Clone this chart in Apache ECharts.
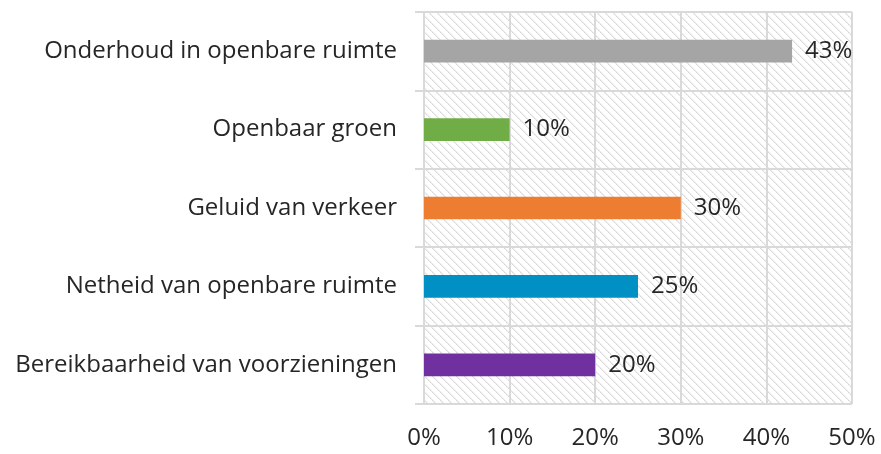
<!DOCTYPE html>
<html>
<head>
<meta charset="utf-8">
<script src="https://cdn.jsdelivr.net/npm/echarts@6/dist/echarts.min.js"></script>
<style>
  html, body { margin: 0; padding: 0; background: #ffffff; }
  #chart { width: 881px; height: 454px; }
</style>
</head>
<body>
<div id="chart"></div>
<script>
// Categories listed bottom to top (category axis on y runs upward)
const categories = [
  'Bereikbaarheid van voorzieningen',
  'Netheid van openbare ruimte',
  'Geluid van verkeer',
  'Openbaar groen',
  'Onderhoud in openbare ruimte'
];
const values = [20, 25, 30, 10, 43];
const barColors = ['#7030a0', '#0090c3', '#ed7d31', '#70ad47', '#a5a5a5'];
const xTicks = [0, 10, 20, 30, 40, 50];

// Light diagonal hatch used as the plot background
function makeHatch() {
  const size = 8;
  const c = document.createElement('canvas');
  c.width = size; c.height = size;
  const ctx = c.getContext('2d');
  ctx.fillStyle = '#ffffff';
  ctx.fillRect(0, 0, size, size);
  for (let i = 0; i < size; i++) {
    ctx.fillStyle = i % 2 === 0 ? '#d6d6d6' : '#e4e4e4';
    ctx.fillRect(i, i, 1, 1);
    ctx.fillStyle = '#ececec';
    ctx.fillRect((i + 1) % size, i, 1, 1);
  }
  return c;
}

const font = '"Open Sans", Lato, sans-serif';
const textColor = '#262626';
const lineColor = '#d9d9d9';

const chart = echarts.init(document.getElementById('chart'), null, { renderer: 'canvas' });
chart.setOption({
  animation: false,
  grid: {
    left: 424, right: 29, top: 12, bottom: 50,
    show: true,
    borderWidth: 0,
    backgroundColor: { image: makeHatch(), repeat: 'repeat' }
  },
  xAxis: {
    type: 'value',
    min: xTicks[0],
    max: xTicks[xTicks.length - 1],
    interval: 10,
    axisLine: { show: false },
    axisTick: { show: false },
    splitLine: { show: true, lineStyle: { color: lineColor, width: 2 } },
    axisLabel: {
      margin: 22,
      fontFamily: font, fontSize: 24, color: textColor,
      formatter: v => v + '%'
    }
  },
  yAxis: {
    type: 'category',
    data: categories,
    axisLine: { show: true, lineStyle: { color: lineColor, width: 2 } },
    axisTick: { show: true, length: 9, lineStyle: { color: lineColor, width: 2 } },
    splitLine: { show: true, lineStyle: { color: lineColor, width: 2 } },
    axisLabel: {
      margin: 27,
      fontFamily: font, fontSize: 24, color: textColor
    }
  },
  series: [{
    type: 'bar',
    data: values.map((v, i) => ({ value: v, itemStyle: { color: barColors[i] } })),
    barWidth: '29%',
    label: {
      show: true,
      position: 'right',
      distance: 13,
      fontFamily: font, fontSize: 24, color: textColor,
      formatter: p => p.value + '%'
    }
  }]
});
</script>
</body>
</html>
